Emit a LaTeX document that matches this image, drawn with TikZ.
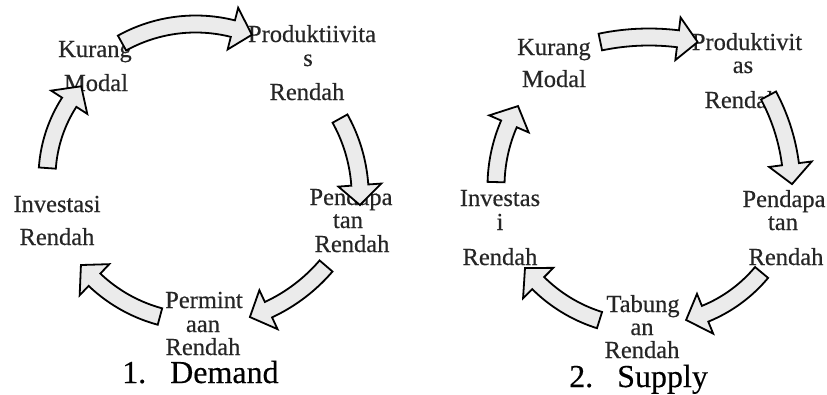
\documentclass[tikz,border=0pt]{standalone}
\usepackage{fontspec}
\setmainfont{Liberation Serif}[FakeBold=0.4]

% curved block arrow along a circle: centre x, centre y, radius, tail angle, tip angle
\newcommand\cyclearrow[5]{%
  \pgfmathsetmacro\headdeg{20/(#3)*180/pi}%
  \pgfmathsetmacro\headang{#5-\headdeg}%
  \draw[blockarrow]
    plot[domain=#4:\headang, samples=30] ({#1+(#3+8.5)*cos(\x)},{#2+(#3+8.5)*sin(\x)})
    -- ({#1+(#3+21.5)*cos(\headang)},{#2+(#3+21.5)*sin(\headang)})
    -- ({#1+#3*cos(#5)},{#2+#3*sin(#5)})
    -- ({#1+(#3-21.5)*cos(\headang)},{#2+(#3-21.5)*sin(\headang)})
    -- plot[domain=\headang:#4, samples=30] ({#1+(#3-8.5)*cos(\x)},{#2+(#3-8.5)*sin(\x)})
    -- cycle;
}

\begin{document}
\begin{tikzpicture}[x=1pt, y=-1pt,
  blockarrow/.style={draw=black, line width=1.8pt, line join=miter, fill=black!8},
  lbl/.style={anchor=base, inner sep=0pt, font=\fontsize{24.5}{29}\selectfont, text=black!85},
  capt/.style={anchor=base west, inner sep=0pt, font=\fontsize{32}{38}\selectfont, text=black}]
\useasboundingbox[fill=white] (0,0) rectangle (827,394);

% ---------- 1. Demand ----------
\node[lbl] (dKa) at (95,57)  {Kurang};
\node[lbl] (dKb) at (96,91)  {Modal};
\node[lbl] (dPa) at (312,42) {Produktiivita};
\node[lbl] (dPb) at (308,66) {s};
\node[lbl] (dPc) at (307,100) {Rendah};
\node[lbl] (dIa) at (351,205) {Pendapa};
\node[lbl] (dIb) at (348,228) {tan};
\node[lbl] (dIc) at (352,252) {Rendah};
\node[lbl] (dDa) at (204,308) {Permint};
\node[lbl] (dDb) at (203,332) {aan};
\node[lbl] (dDc) at (203,355) {Rendah};
\node[lbl] (dVa) at (57,212) {Investasi};
\node[lbl] (dVb) at (57,245) {Rendah};
\node[capt] (dcap) at (122,383) {1.\hspace{24pt}Demand};

\cyclearrow{195.7}{176}{152}{-119}{-68.3}
\cyclearrow{200.2}{196.4}{160}{-29.1}{3.1}
\cyclearrow{196.2}{154.7}{171}{40.6}{71.7}
\cyclearrow{199.7}{169.2}{152.6}{105.1}{141.1}
\cyclearrow{186.5}{177.8}{139.5}{184}{221}

% ---------- 2. Supply ----------
\node[lbl] (sKa) at (554,55) {Kurang};
\node[lbl] (sKb) at (554,87) {Modal};
\node[lbl] (sPa) at (747,50) {Produktivit};
\node[lbl] (sPb) at (743,73) {as};
\node[lbl] (sPc) at (742,108) {Rendah};
\node[lbl] (sIa) at (784,207) {Pendapa};
\node[lbl] (sIb) at (783,230) {tan};
\node[lbl] (sIc) at (786,265) {Rendah};
\node[lbl] (sTa) at (643,312) {Tabung};
\node[lbl] (sTb) at (642,335) {an};
\node[lbl] (sTc) at (642,358) {Rendah};
\node[lbl] (sVa) at (500,206) {Investas};
\node[lbl] (sVb) at (500,230) {i};
\node[lbl] (sVc) at (500,265) {Rendah};
\node[capt] (scap) at (569,387) {2.\hspace{24pt}Supply};

\cyclearrow{649}{275}{238}{-101.8}{-78.2}
\cyclearrow{592.1}{189.7}{200}{-28.1}{-1.6}
\cyclearrow{650.7}{180.1}{144.3}{39.8}{75.8}
\cyclearrow{644.7}{175.9}{151.1}{107.4}{142.4}
\cyclearrow{654}{186.5}{158}{181.6}{210.6}
\end{tikzpicture}
\end{document}
